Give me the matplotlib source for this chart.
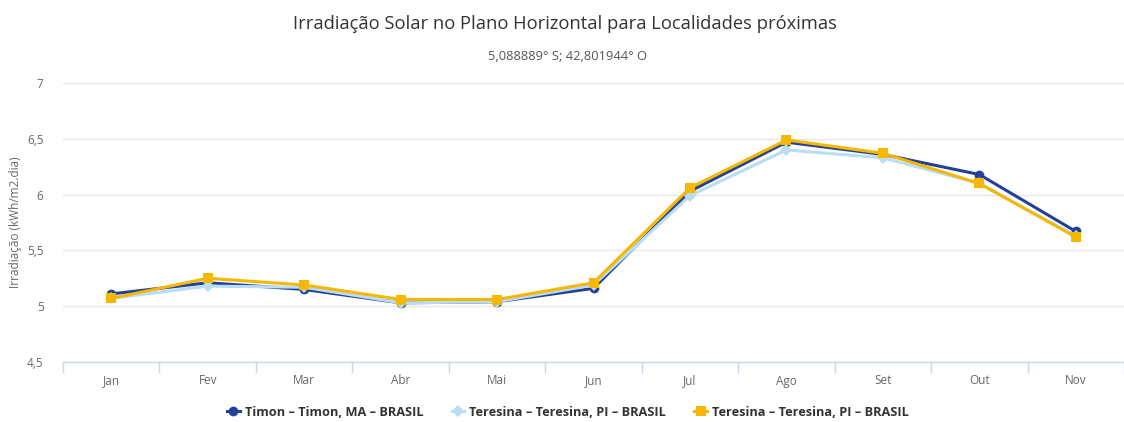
import matplotlib.pyplot as plt
from matplotlib.lines import Line2D

# Dados (kWh/m2.dia)
meses = ["Jan", "Fev", "Mar", "Abr", "Mai", "Jun", "Jul", "Ago", "Set", "Out", "Nov"]
timon = [5.11, 5.21, 5.15, 5.03, 5.04, 5.16, 6.03, 6.47, 6.36, 6.18, 5.67]
teresina_1 = [5.07, 5.18, 5.17, 5.03, 5.04, 5.19, 5.99, 6.40, 6.33, 6.10, 5.63]
teresina_2 = [5.07, 5.25, 5.19, 5.06, 5.06, 5.21, 6.06, 6.49, 6.37, 6.10, 5.62]

nomes = ["Timon – Timon, MA – BRASIL",
         "Teresina – Teresina, PI – BRASIL",
         "Teresina – Teresina, PI – BRASIL"]
cores = ["#22409a", "#b9dcf7", "#f5b700"]
marcadores = ["o", "D", "s"]

plt.rcParams["font.family"] = ["Open Sans", "DejaVu Sans"]

fig = plt.figure(figsize=(11.24, 4.22), dpi=100)
ax = fig.add_axes([63 / 1124, 1 - 362 / 422, 1 - 63 / 1124, (362 - 83) / 422])

x = list(range(len(meses)))
for serie, cor, mk in zip([timon, teresina_1, teresina_2], cores, marcadores):
    ms = 6 if mk == "D" else 7
    ax.plot(x, serie, color=cor, lw=2.2, marker=mk, ms=ms, markeredgewidth=0, zorder=3)

ax.set_ylim(4.5, 7)
ax.set_yticks([4.5, 5, 5.5, 6, 6.5, 7])
ax.set_yticklabels(["4,5", "5", "5,5", "6", "6,5", "7"])
ax.set_xlim(-0.5, 10.5 - 9 / 97.3)
ax.set_xticks(x)
ax.set_xticklabels(meses)
ax.set_xticks([i + 0.5 for i in range(-1, 11)], minor=True)

ax.grid(axis="y", color="#e8e8e8", lw=1)
ax.set_axisbelow(True)
for lado in ["top", "right", "left"]:
    ax.spines[lado].set_visible(False)
ax.spines["bottom"].set_color("#ccd6eb")
ax.spines["bottom"].set_linewidth(1)

ax.tick_params(axis="y", length=0, labelsize=8.5, labelcolor="#666666", pad=14)
ax.tick_params(axis="x", which="major", length=0, labelsize=8.5, labelcolor="#666666", pad=9)
ax.tick_params(axis="x", which="minor", length=8, color="#ccd6eb", width=1)

ax.set_ylabel("Irradiação (kWh/m2.dia)", fontsize=8.5, color="#666666")
ax.yaxis.set_label_coords(-0.039, 0.5)

fig.text(565 / 1124, 1 - 24 / 422, "Irradiação Solar no Plano Horizontal para Localidades próximas",
         ha="center", va="center", fontsize=13.2, color="#333333")
fig.text(567 / 1124, 1 - 57 / 422, "5,088889° S; 42,801944° O",
         ha="center", va="center", fontsize=9.3, color="#555555")

handles = [Line2D([0], [0], color=c, lw=2.2, marker=m, ms=6 if m == "D" else 7, markeredgewidth=0)
           for c, m in zip(cores, marcadores)]
fig.legend(handles, nomes, loc="center", bbox_to_anchor=(568 / 1124, 1 - 412 / 422), ncol=3,
           frameon=False, handlelength=1.0, handletextpad=0.4, columnspacing=2.2,
           prop={"family": ["Open Sans", "DejaVu Sans"], "weight": "bold", "size": 9.2},
           labelcolor="#333333")

fig.savefig("out.png", dpi=100)
